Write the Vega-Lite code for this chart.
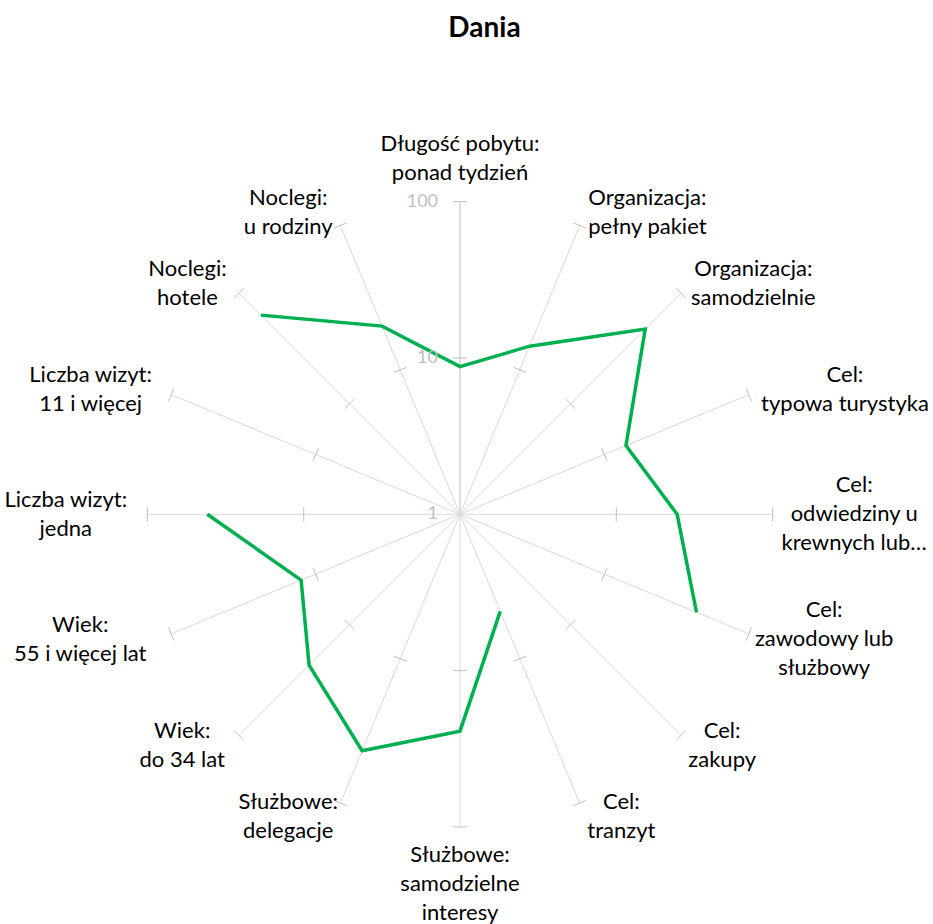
{
  "$schema": "https://vega.github.io/schema/vega-lite/v6.json",
  "width": 933,
  "height": 924,
  "autosize": {"type": "none"},
  "padding": 0,
  "background": "white",
  "config": {"view": {"stroke": null}, "font": "Lato"},
  "title": {"text": "Dania", "anchor": "middle", "frame": "group", "offset": -65, "baseline": "alphabetic", "dx": 18, "font": "Lato", "fontSize": 28, "fontWeight": "bold", "color": "#000000"},
  "datasets": {
    "cats": [
      {"cat": "Długość pobytu:\nponad tydzień", "v": 8.8},
      {"cat": "Organizacja:\npełny pakiet", "v": 14.6},
      {"cat": "Organizacja:\nsamodzielnie", "v": 47.4},
      {"cat": "Cel:\ntypowa turystyka", "v": 14.1},
      {"cat": "Cel:\nodwiedziny u\nkrewnych lub…", "v": 24.5},
      {"cat": "Cel:\nzawodowy lub\nsłużbowy", "v": 43.4},
      {"cat": "Cel:\nzakupy", "v": null},
      {"cat": "Cel:\ntranzyt", "v": 4.7},
      {"cat": "Służbowe:\nsamodzielne\ninteresy", "v": 24.4},
      {"cat": "Służbowe:\ndelegacje", "v": 43.4},
      {"cat": "Wiek:\ndo 34 lat", "v": 23.2},
      {"cat": "Wiek:\n55 i więcej lat", "v": 12.6},
      {"cat": "Liczba wizyt:\njedna", "v": 41.4},
      {"cat": "Liczba wizyt:\n11 i więcej", "v": null},
      {"cat": "Noclegi:\nhotele", "v": 63.4},
      {"cat": "Noclegi:\nu rodziny", "v": 20.1}
    ],
    "levels": [
      {"lab": "100", "v": 100},
      {"lab": "10", "v": 10},
      {"lab": "1", "v": 1}
    ]
  },
  "layer": [
    {
      "data": {"name": "cats"},
      "transform": [
        {"window": [{"op": "row_number", "as": "k"}]},
        {"calculate": "(datum.k-1)*PI/8", "as": "th"},
        {"calculate": "0", "as": "o"},
        {"calculate": "2*sin(datum.th)", "as": "ex"},
        {"calculate": "2*cos(datum.th)", "as": "ey"}
      ],
      "mark": {"type": "rule", "strokeWidth": 1},
      "encoding": {
        "x": {"field": "o", "type": "quantitative", "scale": {"domain": [-2.943, 3.026], "nice": false, "zero": false}, "axis": null},
        "y": {"field": "o", "type": "quantitative", "scale": {"domain": [-2.6213, 3.2905], "nice": false, "zero": false}, "axis": null},
        "x2": {"field": "ex"},
        "y2": {"field": "ey"},
        "color": {"condition": {"test": "datum.k == 1", "value": "#BFBFBF"}, "value": "#D9D9D9"}
      }
    },
    {
      "data": {"name": "cats"},
      "transform": [
        {"window": [{"op": "row_number", "as": "k"}]},
        {"calculate": "(datum.k-1)*PI/8", "as": "th"},
        {"calculate": "[1,2]", "as": "rs"},
        {"flatten": ["rs"]},
        {"calculate": "datum.rs*sin(datum.th) - 0.0448*cos(datum.th)", "as": "tx1"},
        {"calculate": "datum.rs*sin(datum.th) + 0.0448*cos(datum.th)", "as": "tx2"},
        {"calculate": "datum.rs*cos(datum.th) + 0.0448*sin(datum.th)", "as": "ty1"},
        {"calculate": "datum.rs*cos(datum.th) - 0.0448*sin(datum.th)", "as": "ty2"}
      ],
      "mark": {"type": "rule", "strokeWidth": 1, "color": "#BFBFBF"},
      "encoding": {
        "x": {"field": "tx1", "type": "quantitative", "scale": {"domain": [-2.943, 3.026], "nice": false, "zero": false}, "axis": null},
        "y": {"field": "ty1", "type": "quantitative", "scale": {"domain": [-2.6213, 3.2905], "nice": false, "zero": false}, "axis": null},
        "x2": {"field": "tx2"},
        "y2": {"field": "ty2"}
      }
    },
    {
      "data": {"name": "cats"},
      "transform": [
        {"window": [{"op": "row_number", "as": "k"}]},
        {"calculate": "(datum.k-1)*PI/8", "as": "th"},
        {"calculate": "datum.v == null ? null : log(datum.v)/LN10", "as": "r"},
        {"calculate": "datum.v == null ? null : datum.r*sin(datum.th)", "as": "px"},
        {"calculate": "datum.v == null ? null : datum.r*cos(datum.th)", "as": "py"},
        {"calculate": "datum.k >= 15 ? datum.k - 17 : datum.k", "as": "ord"}
      ],
      "mark": {"type": "line", "color": "#00B050", "strokeWidth": 3.5, "invalid": "break-paths-show-domains"},
      "encoding": {
        "x": {"field": "px", "type": "quantitative", "scale": {"domain": [-2.943, 3.026], "nice": false, "zero": false}, "axis": null},
        "y": {"field": "py", "type": "quantitative", "scale": {"domain": [-2.6213, 3.2905], "nice": false, "zero": false}, "axis": null},
        "order": {"field": "ord", "type": "quantitative"}
      }
    },
    {
      "data": {"name": "cats"},
      "transform": [
        {"window": [{"op": "row_number", "as": "k"}]},
        {"calculate": "(datum.k-1)*PI/8", "as": "th"},
        {"calculate": "sin(datum.th)", "as": "s"},
        {"calculate": "cos(datum.th)", "as": "c"},
        {"calculate": "split(datum.cat, '\\n')", "as": "parts"},
        {"calculate": "length(datum.parts)", "as": "nl"},
        {"calculate": "max(length(datum.parts[0]), datum.nl > 1 ? length(datum.parts[1]) : 0, datum.nl > 2 ? length(datum.parts[2]) : 0)", "as": "ml"},
        {"calculate": "datum.ml*10.4/2/156.3", "as": "hw"},
        {"calculate": "datum.nl*29/2/156.3", "as": "hh"},
        {"calculate": "2.0896*datum.s + (abs(datum.s) < 0.01 ? 0 : (datum.s > 0 ? datum.hw : -datum.hw))", "as": "lx"},
        {"calculate": "2.0896*datum.c + (abs(datum.s) < 0.01 ? (datum.c > 0 ? datum.hh : -datum.hh) : 0) + (datum.nl - 1)*14.5/156.3", "as": "ly"}
      ],
      "mark": {"type": "text", "align": "center", "baseline": "middle", "lineBreak": "\n", "font": "Lato", "fontSize": 22, "lineHeight": 29, "color": "#000000"},
      "encoding": {
        "x": {"field": "lx", "type": "quantitative", "scale": {"domain": [-2.943, 3.026], "nice": false, "zero": false}, "axis": null},
        "y": {"field": "ly", "type": "quantitative", "scale": {"domain": [-2.6213, 3.2905], "nice": false, "zero": false}, "axis": null},
        "text": {"field": "cat", "type": "nominal"}
      }
    },
    {
      "data": {"name": "levels"},
      "transform": [
        {"calculate": "log(datum.v)/LN10", "as": "r"},
        {"calculate": "0", "as": "o"}
      ],
      "mark": {"type": "text", "align": "right", "baseline": "middle", "dx": -22, "font": "Lato", "fontSize": 18, "color": "#BFBFBF"},
      "encoding": {
        "x": {"field": "o", "type": "quantitative", "scale": {"domain": [-2.943, 3.026], "nice": false, "zero": false}, "axis": null},
        "y": {"field": "r", "type": "quantitative", "scale": {"domain": [-2.6213, 3.2905], "nice": false, "zero": false}, "axis": null},
        "text": {"field": "lab", "type": "nominal"}
      }
    }
  ]
}
